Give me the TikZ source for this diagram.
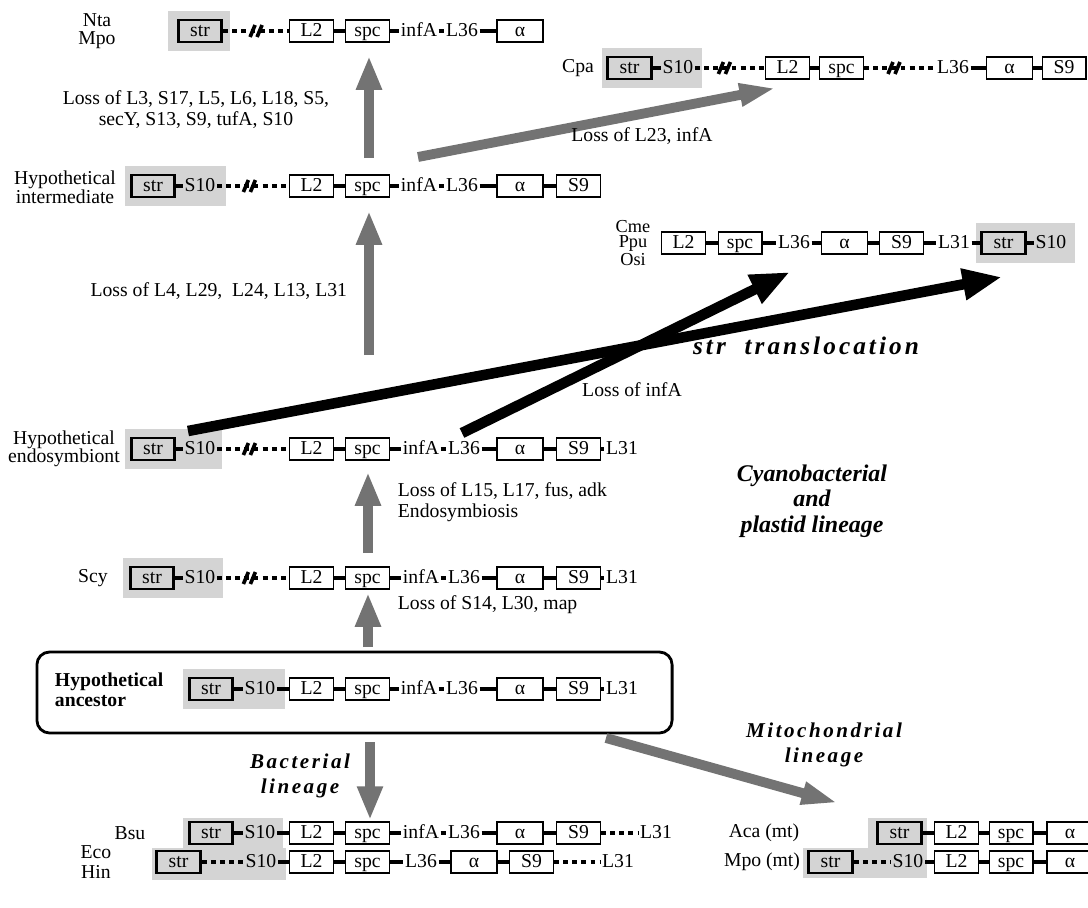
\documentclass[tikz,border=0pt]{standalone}
\usepackage{fontspec}
\setmainfont{Liberation Serif}
\newfontfamily\spacedfont[LetterSpace=12]{Liberation Serif}
\usetikzlibrary{arrows.meta}

\tikzset{
  gene/.style={draw, line width=1pt, minimum width=31pt, minimum height=15.5pt, inner sep=0pt, text height=10pt, text depth=2.5pt},
  genea/.style={gene, minimum width=32.5pt},
  strbox/.style={gene, line width=1.9pt},
  txt/.style={inner sep=1pt, text height=10pt, text depth=2pt},
  lnk/.style={line width=2.2pt},
  dotline/.style={line width=2.2pt, dash pattern=on 3.5pt off 3pt},
  stip/.style={fill=black!17},
  garrow/.style={line width=7pt, draw=black!55, -{Triangle[length=24pt,width=17pt]}},
  gdiag/.style={line width=7pt, draw=black!55, -{Triangle[length=26pt,width=15pt]}},
  barrow/.style={line width=7.5pt, -{Triangle[length=28pt,width=21pt]}},
  lineage/.style={font=\spacedfont\bfseries\itshape\fontsize{15}{18}\selectfont, align=center},
  brk/.pic={\draw[line width=2.6pt, solid] (-6,6) -- (-1,-6) (1,6) -- (6,-6);}
}

\begin{document}
\begin{tikzpicture}[x=0.025cm, y=-0.025cm, font=\fontsize{14}{16}\selectfont]
	\clip (0,0) rectangle (1088,908);

	% Nta / Mpo
	\fill[stip] (168,11) rectangle (230,51);
	\node[align=center, font=\fontsize{14}{13}\selectfont] (nlab) at (97,31) {Nta\\Mpo};
	\node[strbox] (nstr) at (200,31) {str};
	\node[gene] (nL2) at (311.5,31) {L2};
	\node[gene] (nspc) at (367.5,31) {spc};
	\node[txt] (ninf) at (419,31) {infA};
	\node[txt] (nL36) at (462,31) {L36};
	\node[genea] (nal) at (520,31) {α};
	\draw[dotline] (nstr) -- coordinate[pos=0.5] (nbk) (nL2);
	\path (nbk) pic {brk};
	\draw[lnk] (nL2) -- (nspc) (nspc) -- (ninf) (ninf) -- (nL36) (nL36) -- (nal);

	% Cpa
	\fill[stip] (602,48) rectangle (702,88);
	\node (clab) at (578,68) {Cpa};
	\node[strbox] (cstr) at (629.5,68) {str};
	\node[txt] (cS10) at (678,68) {S10};
	\node[gene] (cL2) at (787.5,68) {L2};
	\node[gene] (cspc) at (841.5,68) {spc};
	\node[txt] (cL36) at (953,68) {L36};
	\node[genea] (cal) at (1009.5,68) {α};
	\node[gene] (cS9) at (1064,68) {S9};
	\draw[lnk] (cstr) -- (cS10) (cL2) -- (cspc) (cL36) -- (cal) (cal) -- (cS9);
	\draw[dotline] (cS10) -- coordinate[pos=0.42] (cbk1) (cL2);
	\draw[dotline] (cspc) -- coordinate[pos=0.42] (cbk2) (cL36);
	\path (cbk1) pic {brk};
	\path (cbk2) pic {brk};

	% Hypothetical intermediate
	\fill[stip] (125,166) rectangle (226,206);
	\node[align=center, font=\fontsize{14}{13.5}\selectfont] (hlab) at (65,187) {Hypothetical\\intermediate};
	\node[strbox] (hstr) at (153,186) {str};
	\node[txt] (hS10) at (200,186) {S10};
	\node[gene] (hL2) at (311.5,186) {L2};
	\node[gene] (hspc) at (367.5,186) {spc};
	\node[txt] (hinf) at (419,186) {infA};
	\node[txt] (hL36) at (462,186) {L36};
	\node[genea] (hal) at (520,186) {α};
	\node[gene] (hS9) at (578.5,186) {S9};
	\draw[lnk] (hstr) -- (hS10) (hL2) -- (hspc) (hspc) -- (hinf) (hinf) -- (hL36) (hL36) -- (hal) (hal) -- (hS9);
	\draw[dotline] (hS10) -- coordinate[pos=0.45] (hbk) (hL2);
	\path (hbk) pic {brk};

	% Cme / Ppu / Osi
	\fill[stip] (976,223) rectangle (1075,263);
	\node[align=center, font=\fontsize{13}{11}\selectfont] (mlab) at (633,243) {Cme\\Ppu\\Osi};
	\node[gene] (mL2) at (683.5,243) {L2};
	\node[gene] (mspc) at (740,243) {spc};
	\node[txt] (mL36) at (794,243) {L36};
	\node[genea] (mal) at (844.5,243) {α};
	\node[gene] (mS9) at (901.5,243) {S9};
	\node[txt] (mL31) at (954,243) {L31};
	\node[strbox] (mstr) at (1003.5,243) {str};
	\node[txt] (mS10) at (1051,243) {S10};
	\draw[lnk] (mL2) -- (mspc) (mspc) -- (mL36) (mL36) -- (mal) (mal) -- (mS9) (mS9) -- (mL31) (mL31) -- (mstr) (mstr) -- (mS10);

	% Hypothetical endosymbiont
	\fill[stip] (125,429) rectangle (222,469);
	\node[align=center, font=\fontsize{14}{13}\selectfont] (elab) at (64,449) {Hypothetical\\endosymbiont};
	\node[strbox] (estr) at (153,449) {str};
	\node[txt] (eS10) at (200,449) {S10};
	\node[gene] (eL2) at (311.5,449) {L2};
	\node[gene] (espc) at (367.5,449) {spc};
	\node[txt] (einf) at (421,449) {infA};
	\node[txt] (eL36) at (464,449) {L36};
	\node[genea] (eal) at (520,449) {α};
	\node[gene] (eS9) at (578.5,449) {S9};
	\node[txt] (eL31) at (622,449) {L31};
	\draw[lnk] (estr) -- (eS10) (eL2) -- (espc) (espc) -- (einf) (einf) -- (eL36) (eL36) -- (eal) (eal) -- (eS9) (eS9) -- (eL31);
	\draw[dotline] (eS10) -- coordinate[pos=0.45] (ebk) (eL2);
	\path (ebk) pic {brk};

	% Scy
	\fill[stip] (123,558) rectangle (223,598);
	\node (slab) at (93,578) {Scy};
	\node[strbox] (sstr) at (152,578) {str};
	\node[txt] (sS10) at (200,578) {S10};
	\node[gene] (sL2) at (311.5,578) {L2};
	\node[gene] (sspc) at (367.5,578) {spc};
	\node[txt] (sinf) at (421,578) {infA};
	\node[txt] (sL36) at (464,578) {L36};
	\node[genea] (sal) at (520,578) {α};
	\node[gene] (sS9) at (578.5,578) {S9};
	\node[txt] (sL31) at (622,578) {L31};
	\draw[lnk] (sstr) -- (sS10) (sL2) -- (sspc) (sspc) -- (sinf) (sinf) -- (sL36) (sL36) -- (sal) (sal) -- (sS9) (sS9) -- (sL31);
	\draw[dotline] (sS10) -- coordinate[pos=0.45] (sbk) (sL2);
	\path (sbk) pic {brk};

	% Hypothetical ancestor
	\node[draw, line width=2pt, rounded corners=9pt, minimum width=451.7pt, minimum height=57.6pt] (abox) at (354.5,692.5) {};
	\fill[stip] (183,669) rectangle (285,709);
	\node[anchor=west, align=left, font=\bfseries\fontsize{14}{14}\selectfont] (alab) at (50,690) {Hypothetical\\ancestor};
	\node[strbox] (astr) at (211,689) {str};
	\node[txt] (aS10) at (260,689) {S10};
	\node[gene] (aL2) at (311.5,689) {L2};
	\node[gene] (aspc) at (367.5,689) {spc};
	\node[txt] (ainf) at (419,689) {infA};
	\node[txt] (aL36) at (462,689) {L36};
	\node[genea] (aal) at (520,689) {α};
	\node[gene] (aS9) at (578.5,689) {S9};
	\node[txt] (aL31) at (622,689) {L31};
	\draw[lnk] (astr) -- (aS10) (aS10) -- (aL2) (aL2) -- (aspc) (aspc) -- (ainf) (ainf) -- (aL36) (aL36) -- (aal) (aal) -- (aS9) (aS9) -- (aL31);

	% Bsu
	\fill[stip] (183,818) rectangle (283,848);
	\node (blab) at (130,833) {Bsu};
	\node[strbox] (bstr) at (211,833) {str};
	\node[txt] (bS10) at (260,833) {S10};
	\node[gene] (bL2) at (311.5,833) {L2};
	\node[gene] (bspc) at (367.5,833) {spc};
	\node[txt] (binf) at (421,833) {infA};
	\node[txt] (bL36) at (464,833) {L36};
	\node[genea] (bal) at (520,833) {α};
	\node[gene] (bS9) at (578.5,833) {S9};
	\node[txt] (bL31) at (656,833) {L31};
	\draw[lnk] (bstr) -- (bS10) (bS10) -- (bL2) (bL2) -- (bspc) (bspc) -- (binf) (binf) -- (bL36) (bL36) -- (bal) (bal) -- (bS9);
	\draw[dotline] (bS9) -- (bL31);

	% Eco / Hin
	\fill[stip] (152,848) rectangle (286,880);
	\node[align=center, font=\fontsize{14}{14}\selectfont] (klab) at (96,862) {Eco\\Hin};
	\node[strbox] (kstr) at (178.5,862) {str};
	\node[txt] (kS10) at (261,862) {S10};
	\node[gene] (kL2) at (311.5,862) {L2};
	\node[gene] (kspc) at (367.5,862) {spc};
	\node[txt] (kL36) at (421,862) {L36};
	\node[genea] (kal) at (474,862) {α};
	\node[gene] (kS9) at (531.5,862) {S9};
	\node[txt] (kL31) at (618,862) {L31};
	\draw[lnk] (kS10) -- (kL2) (kL2) -- (kspc) (kspc) -- (kL36) (kL36) -- (kal) (kal) -- (kS9);
	\draw[dotline] (kstr) -- (kS10) (kS9) -- (kL31);

	% Aca (mt) / Mpo (mt)
	\fill[stip] (868,818) rectangle (927,848);
	\fill[stip] (803,848) rectangle (927,878);
	\node (qlab) at (764,833) {Aca (mt)};
	\node[strbox] (qstr) at (899.5,833) {str};
	\node[gene] (qL2) at (956.5,833) {L2};
	\node[gene] (qspc) at (1011,833) {spc};
	\node[genea] (qal) at (1070,833) {α};
	\draw[lnk] (qstr) -- (qL2) (qL2) -- (qspc) (qspc) -- (qal);
	\node (plab) at (762,862) {Mpo (mt)};
	\node[strbox] (pstr) at (830.5,862) {str};
	\node[txt] (pS10) at (908,862) {S10};
	\node[gene] (pL2) at (956.5,862) {L2};
	\node[gene] (pspc) at (1011,862) {spc};
	\node[genea] (pal) at (1070,862) {α};
	\draw[lnk] (pS10) -- (pL2) (pL2) -- (pspc) (pspc) -- (pal);
	\draw[dotline] (pstr) -- (pS10);

	% Setas cinzentas
	\coordinate (u1a) at (369,158);
	\coordinate (u1b) at (369,56);
	\coordinate (d1a) at (418,157);
	\coordinate (d1b) at (776,88);
	\coordinate (u2a) at (369,355);
	\coordinate (u2b) at (369,211);
	\coordinate (u3a) at (368,553);
	\coordinate (u3b) at (368,472);
	\coordinate (u4a) at (368,647);
	\coordinate (u4b) at (368,593);
	\coordinate (dna) at (370,742);
	\coordinate (dnb) at (370,820);
	\coordinate (mta) at (606,738);
	\coordinate (mtb) at (838,803);
	\draw[garrow] (u1a) -- (u1b);
	\draw[gdiag] (d1a) -- (d1b);
	\draw[garrow] (u2a) -- (u2b);
	\draw[garrow] (u3a) -- (u3b);
	\draw[garrow] (u4a) -- (u4b);
	\draw[garrow] (dna) -- (dnb);
	\draw[gdiag] (mta) -- (mtb);

	% Setas pretas
	\coordinate (b1a) at (188,431);
	\coordinate (b1b) at (1002,277);
	\coordinate (b2a) at (462,433);
	\coordinate (b2b) at (790,272);
	\draw[barrow] (b1a) -- (b1b);
	\draw[barrow] (b2a) -- (b2b);

	% Textos
	\node[align=center, font=\fontsize{14}{15}\selectfont] (loss1) at (196,110) {Loss of L3, S17, L5, L6, L18, S5,\\secY, S13, S9, tufA, S10};
	\node (loss2) at (642,136) {Loss of L23, infA};
	\node[anchor=east] (loss3) at (352,291) {Loss of L4, L29,\ \ L24, L13, L31};
	\node[font=\spacedfont\bfseries\itshape\fontsize{18}{20}\selectfont] (trans) at (806,346) {str\ \ translocation};
	\node (loss4) at (632,390) {Loss of infA};
	\node[anchor=west, align=left, font=\fontsize{14}{15}\selectfont] (loss5) at (393,502) {Loss of L15, L17, fus, adk\\Endosymbiosis};
	\node[align=center, font=\bfseries\itshape\fontsize{17}{18}\selectfont] (cyano) at (812,501) {Cyanobacterial\\and\\plastid lineage};
	\node[anchor=west] (loss6) at (393,605) {Loss of S14, L30, map};
	\node[lineage] (bact) at (300,776) {Bacterial\\lineage};
	\node[lineage] (mito) at (824,745) {Mitochondrial\\lineage};
\end{tikzpicture}
\end{document}
